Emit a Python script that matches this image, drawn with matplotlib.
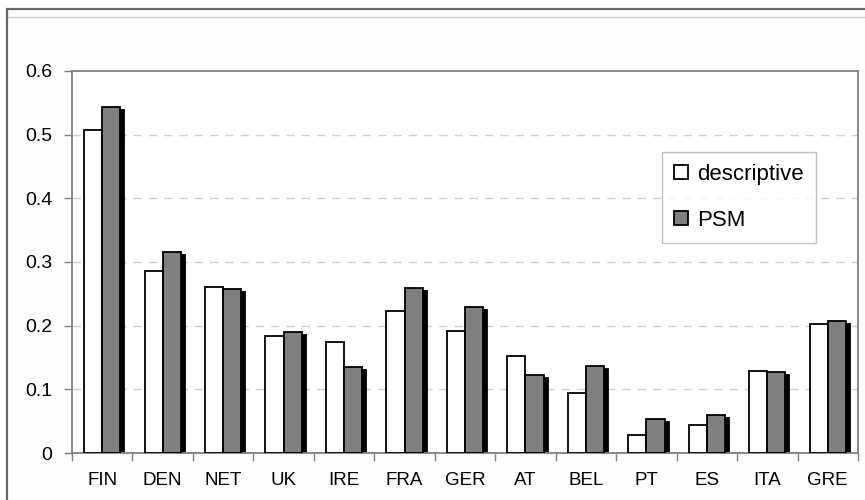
import matplotlib
matplotlib.use("Agg")
import matplotlib.pyplot as plt
import numpy as np
from matplotlib.patches import Rectangle, Patch
from matplotlib.lines import Line2D
from matplotlib import transforms

plt.rcParams['font.family'] = ['Liberation Sans', 'DejaVu Sans']

countries = ["FIN", "DEN", "NET", "UK", "IRE", "FRA", "GER", "AT", "BEL", "PT", "ES", "ITA", "GRE"]
descriptive = [0.507, 0.286, 0.261, 0.183, 0.175, 0.223, 0.192, 0.153, 0.095, 0.029, 0.044, 0.129, 0.202]
psm = [0.543, 0.315, 0.257, 0.190, 0.135, 0.259, 0.230, 0.122, 0.136, 0.053, 0.060, 0.127, 0.208]
yticks = [0, 0.1, 0.2, 0.3, 0.4, 0.5, 0.6]

fig = plt.figure(figsize=(8.65, 5.0), dpi=100)
fig.patch.set_facecolor("#fdfdfd")

# outer chart frame (runs off the right and bottom edges)
fig.add_artist(Rectangle((7 / 865, -0.05), 1.2, (500 - 9) / 500 + 0.05,
                         transform=fig.transFigure, fill=False,
                         edgecolor="#666666", linewidth=1.6))
fig.add_artist(Line2D([8 / 865, 1.0], [(500 - 17) / 500] * 2,
                      transform=fig.transFigure, color="#cfcfcf", linewidth=1.0))

ax = fig.add_axes([72 / 865, 47 / 500, (858 - 72) / 865, (453 - 71) / 500])
ax.set_facecolor("white")

x = np.arange(len(countries))
w = 0.3
lw = 1.3
# drop shadow behind the PSM bars
shadow = transforms.offset_copy(ax.transData, fig=fig, x=4, y=-3, units="dots")
ax.bar(x + w / 2, psm, width=w, color="black", edgecolor="black",
       linewidth=lw, transform=shadow, zorder=2)
ax.bar(x - w / 2, descriptive, width=w, color="white", edgecolor="black",
       linewidth=lw, zorder=3, label="descriptive")
ax.bar(x + w / 2, psm, width=w, color="#808080", edgecolor="black",
       linewidth=lw, zorder=3, label="PSM")

ax.set_xlim(-0.5, len(countries) - 0.5)
ax.set_ylim(0, 0.6)
ax.set_yticks(yticks)
ax.set_yticklabels(["0" if v == 0 else f"{v:.1f}" for v in yticks])
ax.set_xticks(x)
ax.set_xticklabels(countries)
ax.set_xticks(np.arange(-0.5, len(countries)), minor=True)
ax.tick_params(axis="x", which="major", length=0, pad=14, labelsize=13.5)
ax.tick_params(axis="x", which="minor", length=6, color="#808080", width=1)
ax.tick_params(axis="y", length=6, color="#808080", width=1, pad=8, labelsize=14)

for v in yticks[1:-1]:
    ax.axhline(v, color="#d0d0d0", linestyle=(0, (6, 5)), linewidth=1, zorder=1)

for s in ax.spines.values():
    s.set_color("#808080")
    s.set_linewidth(1.3)

handles = [Patch(facecolor="white", edgecolor="black", linewidth=lw),
           Patch(facecolor="#808080", edgecolor="black", linewidth=lw)]
leg = ax.legend(handles, ["descriptive", "PSM"], loc="upper left",
                bbox_to_anchor=((662 - 72) / 786, (453 - 152) / 382),
                fontsize=16, frameon=True, fancybox=False,
                handlelength=0.6, handleheight=0.6, handletextpad=0.45,
                labelspacing=1.1, borderpad=0.55, borderaxespad=0)
leg.get_frame().set_edgecolor("#b0b0b0")
leg.get_frame().set_linewidth(1.0)

fig.savefig("out.png", dpi=100, facecolor=fig.get_facecolor())
